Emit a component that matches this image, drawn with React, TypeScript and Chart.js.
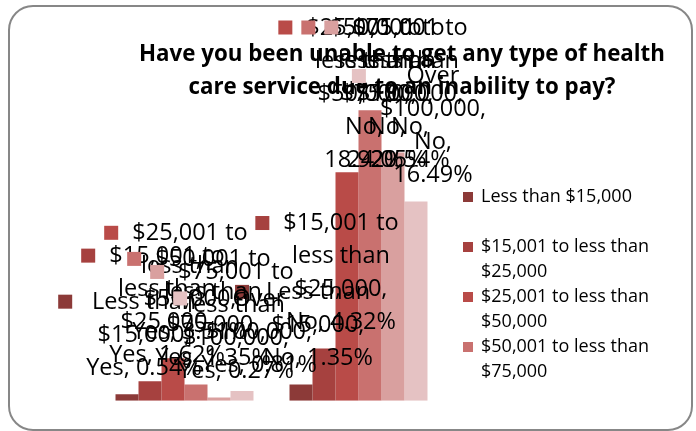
import React, { useEffect, useRef } from "react";
import { Chart, registerables } from "chart.js";

Chart.register(...registerables);

// ---- data ----
const categories = ["Yes", "No"];
const seriesNames = [
  "Less than $15,000",
  "$15,001 to less than $25,000",
  "$25,001 to less than $50,000",
  "$50,001 to less than $75,000",
  "$75,001 to less than $100,000",
  "Over $100,000",
];
const lessThan15k = [0.54, 1.35];
const from15kTo25k = [1.62, 4.32];
const from25kTo50k = [3.51, 18.92];
const from50kTo75k = [1.35, 24.05];
const from75kTo100k = [0.27, 20.54];
const over100k = [0.81, 16.49];
const seriesValues = [lessThan15k, from15kTo25k, from25kTo50k, from50kTo75k, from75kTo100k, over100k];
const seriesColors = ["#8C3A38", "#A6413F", "#B94B48", "#C9716F", "#D9A09F", "#E5C2C3"];
const titleLines = [
  "Have you been unable to get any type of health",
  "care service due to an inability to pay?",
];

const LABEL_FONT = '23.5px "Open Sans"';
const LABEL_MAXW = 119;
const LABEL_LH = 33;
const KEY = 14;
const KEY_GAP = 14;

function wrap(ctx: CanvasRenderingContext2D, text: string, maxW: number): string[] {
  const words = text.split(" ");
  const lines: string[] = [];
  let cur = "";
  for (const w of words) {
    const t = cur ? cur + " " + w : w;
    if (cur && ctx.measureText(t).width > maxW) {
      lines.push(cur);
      cur = w;
    } else cur = t;
  }
  if (cur) lines.push(cur);
  return lines;
}

const framePlugin = {
  id: "frame",
  beforeDraw(chart: any) {
    const ctx = chart.ctx as CanvasRenderingContext2D;
    ctx.save();
    ctx.fillStyle = "#ffffff";
    ctx.fillRect(0, 0, chart.width, chart.height);
    ctx.beginPath();
    (ctx as any).roundRect(9, 6, 683, 424, 24);
    ctx.strokeStyle = "#878787";
    ctx.lineWidth = 2;
    ctx.stroke();
    ctx.restore();
  },
};

const textPlugin = {
  id: "texts",
  afterDatasetsDraw(chart: any) {
    const ctx = chart.ctx as CanvasRenderingContext2D;
    ctx.save();
    // title
    ctx.fillStyle = "#000";
    ctx.font = 'bold 22.3px "Open Sans"';
    ctx.textAlign = "center";
    ctx.textBaseline = "middle";
    titleLines.forEach((l, k) => ctx.fillText(l, 402, 55 + k * 33));

    // data labels
    ctx.font = LABEL_FONT;
    chart.data.datasets.forEach((ds: any, i: number) => {
      const meta = chart.getDatasetMeta(i);
      meta.data.forEach((el: any, j: number) => {
        const v = ds.data[j];
        const text = `${seriesNames[i]}, ${categories[j]}, ${v.toFixed(2)}%`;
        const lines = wrap(ctx, text, LABEL_MAXW);
        const tw = Math.max(...lines.map((l) => ctx.measureText(l).width));
        const blockW = KEY + KEY_GAP + tw;
        const left = el.x + 3 - blockW / 2;
        const textCx = left + KEY + KEY_GAP + tw / 2;
        const lastC = el.y - 26;
        let firstC = lastC - (lines.length - 1) * LABEL_LH;
        if (firstC < 28) firstC = 28;
        ctx.fillStyle = seriesColors[i];
        ctx.fillRect(left, firstC - 7.5, KEY, KEY);
        ctx.fillStyle = "#000";
        ctx.textAlign = "center";
        lines.forEach((l, k) => ctx.fillText(l, textCx, firstC + k * LABEL_LH));
      });
    });

    // legend (only the entries that fit)
    ctx.font = '18px "Open Sans"';
    ctx.textAlign = "left";
    const legendX = 463;
    const legendTop = 197;
    const entryH = 50;
    const legendBottom = 392;
    seriesNames.forEach((name, i) => {
      const lines = wrap(ctx, name, 205);
      const y0 = legendTop + i * entryH;
      if (y0 + (lines.length - 1) * 25 + 12 > legendBottom) return;
      ctx.fillStyle = seriesColors[i];
      ctx.fillRect(legendX, y0 - 5, 10, 10);
      ctx.fillStyle = "#000";
      lines.forEach((l, k) => ctx.fillText(l, legendX + 18, y0 + k * 25));
    });
    ctx.restore();
  },
};

export default function App() {
  const ref = useRef<HTMLCanvasElement | null>(null);
  useEffect(() => {
    if (!ref.current) return;
    const chart = new Chart(ref.current, {
      type: "bar",
      data: {
        labels: categories,
        datasets: seriesNames.map((n, i) => ({
          label: n,
          data: seriesValues[i],
          backgroundColor: seriesColors[i],
          borderWidth: 0,
          barPercentage: 1,
          categoryPercentage: 0.793,
        })),
      },
      options: {
        responsive: false,
        animation: false,
        layout: { padding: { left: 97.5, right: 250.5, top: 38.3, bottom: 30.3 } },
        scales: {
          x: { display: false },
          y: { display: false, min: 0, max: 30 },
        },
        plugins: {
          legend: { display: false },
          title: { display: false },
          tooltip: { enabled: false },
        },
      },
      plugins: [framePlugin, textPlugin],
    });
    return () => chart.destroy();
  }, []);
  return (
    <div style={{ position: "absolute", left: 0, top: 0, width: 696, height: 431 }}>
      <canvas ref={ref} width={696} height={431} style={{ display: "block" }} />
    </div>
  );
}
